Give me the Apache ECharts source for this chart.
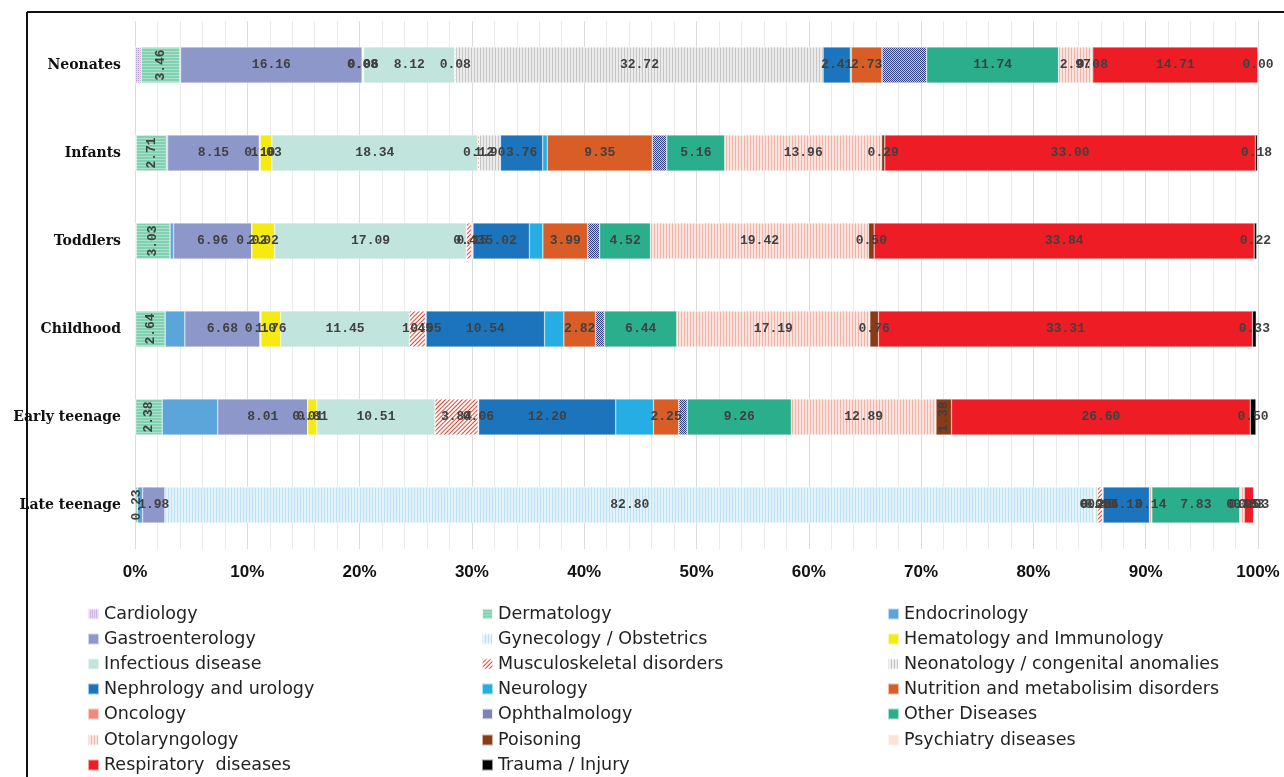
<!DOCTYPE html>
<html>
<head>
<meta charset="utf-8">
<script src="https://cdn.jsdelivr.net/npm/echarts@6/dist/echarts.min.js"></script>
<style>html,body{margin:0;padding:0;background:#fff}#c{width:1284px;height:777px}</style>
</head>
<body>
<div id="c"></div>
<script>
// Age groups (categories)
const ageGroups = ['Neonates', 'Infants', 'Toddlers', 'Childhood', 'Early teenage', 'Late teenage'];
// x-axis tick labels are percentages 0..100 step 10
const xTicks = [0, 10, 20, 30, 40, 50, 60, 70, 80, 90, 100];

// Series values (%), order: Neonates, Infants, Toddlers, Childhood, Early teenage, Late teenage
const cardiology      = [0.55, 0.10, 0.10, 0.05, 0.05, null];
const dermatology     = [3.46, 2.71, 3.03, 2.64, 2.38, 0.23];
const endocrinology   = [0.05, 0.10, 0.30, 1.75, 4.94, 0.45];
const gastro          = [16.16, 8.15, 6.96, 6.68, 8.01, 1.98];
const gynecology      = [0.08, 0.10, 0.02, 0.10, 0.01, 82.80];
const hematology      = [0.06, 1.03, 2.02, 1.76, 0.81, 0.05];
const infectious      = [8.12, 18.34, 17.09, 11.45, 10.51, 0.20];
const musculoskeletal = [0.08, 0.12, 0.43, 1.45, 3.84, 0.45];
const neonatology     = [32.72, 1.90, 0.15, 0.05, 0.06, 0.05];
const nephrology      = [2.41, 3.76, 5.02, 10.54, 12.20, 4.13];
const neurology       = [0.10, 0.40, 1.20, 1.72, 3.36, 0.05];
const nutrition       = [2.73, 9.35, 3.99, 2.82, 2.25, 0.14];
const oncology        = [null, null, null, null, null, null];
const ophthalmology   = [3.98, 1.30, 1.07, 0.80, 0.76, 0.02];
const otherDiseases   = [11.74, 5.16, 4.52, 6.44, 9.26, 7.83];
const otolaryngology  = [2.97, 13.96, 19.42, 17.19, 12.89, 0.35];
const poisoning       = [0.08, 0.29, 0.50, 0.76, 1.38, 0.05];
const psychiatry      = [null, null, null, null, null, null];
const respiratory     = [14.71, 33.00, 33.84, 33.31, 26.60, 0.83];
const trauma          = [0.00, 0.18, 0.22, 0.33, 0.50, 0.03];

const seriesNames = ['Cardiology', 'Dermatology', 'Endocrinology', 'Gastroenterology',
  'Gynecology / Obstetrics', 'Hematology and Immunology', 'Infectious disease',
  'Musculoskeletal disorders', 'Neonatology / congenital anomalies', 'Nephrology and urology',
  'Neurology', 'Nutrition and metabolisim disorders', 'Oncology', 'Ophthalmology',
  'Other Diseases', 'Otolaryngology', 'Poisoning', 'Psychiatry diseases',
  'Respiratory  diseases', 'Trauma / Injury'];
const seriesData = [cardiology, dermatology, endocrinology, gastro, gynecology, hematology,
  infectious, musculoskeletal, neonatology, nephrology, neurology, nutrition, oncology,
  ophthalmology, otherDiseases, otolaryngology, poisoning, psychiatry, respiratory, trauma];

// Styles
const vLines = (c) => ({symbol: 'rect', symbolSize: 1, color: c, dashArrayX: [1, 2], dashArrayY: [10, 0], rotation: 0});
const styles = [
  {color: '#E4D8EE', decal: {symbol: 'rect', symbolSize: 1, color: '#B499CF', dashArrayX: [1, 1], dashArrayY: [1, 1]}},
  {color: '#7FD1B2', decal: {symbol: 'rect', symbolSize: 1, color: 'rgba(255,255,255,0.35)', dashArrayX: [10, 0], dashArrayY: [1, 2]}},
  {color: '#5CA5DB'},
  {color: '#8E97C9'},
  {color: '#E3F3FC', decal: vLines('#BDE2F4')},
  {color: '#F5EB12'},
  {color: '#C1E5DC'},
  {color: '#FFFFFF', decal: {symbol: 'rect', symbolSize: 1, color: '#E2412F', dashArrayX: [1, 2], dashArrayY: [10, 0], rotation: Math.PI / 4}},
  {color: '#EBEBEB', decal: vLines('#C6C6C6')},
  {color: '#1C74BD'},
  {color: '#26AEE4'},
  {color: '#D95D26'},
  {color: '#F2897A'},
  {color: '#2E3D80', decal: {symbol: 'rect', symbolSize: 1, color: 'rgba(255,255,255,0.75)', dashArrayX: [[1, 1], [0, 1, 1, 0]], dashArrayY: [1, 0]}},
  {color: '#2AAE8B'},
  {color: '#FBE3DE', decal: vLines('#F0B4AA')},
  {color: '#8B3A18'},
  {color: '#FCE3D3'},
  {color: '#EE1D25'},
  {color: '#000000'}
];
const noLabel = new Set(['Cardiology', 'Endocrinology', 'Neurology', 'Ophthalmology', 'Oncology', 'Psychiatry diseases']);
const rotatedLabel = {'Dermatology': [0, 1, 2, 3, 4, 5], 'Poisoning': [4]};

const labelFont = {color: '#404040', fontFamily: 'Liberation Mono', fontWeight: 'bold', fontSize: 13};

const series = seriesNames.map((name, i) => {
  const rot = rotatedLabel[name] || [];
  return {
    name: name,
    type: 'bar',
    stack: 'total',
    barWidth: 36,
    itemStyle: Object.assign({borderColor: 'rgba(255,255,255,0.6)', borderWidth: 0.5}, styles[i]),
    label: Object.assign({
      show: !noLabel.has(name),
      position: 'inside',
      formatter: (p) => p.value == null ? '' : Number(p.value).toFixed(2)
    }, labelFont),
    labelLayout: {hideOverlap: false},
    data: seriesData[i].map((v, j) => rot.indexOf(j) >= 0 && v != null
      ? {value: v, label: {rotate: 90}} : v)
  };
});

// Legend: 3 columns x 7 rows, row-major order
const legendCols = [87, 481, 887];
const legendRowCenters = [614, 639, 664, 689, 714, 740, 765];
const legends = seriesNames.map((name, i) => ({
  orient: 'horizontal',
  left: legendCols[i % 3],
  top: legendRowCenters[Math.floor(i / 3)] - 10,
  padding: 0, itemWidth: 11, itemHeight: 11, icon: 'rect',
  textStyle: {fontFamily: 'DejaVu Sans', fontSize: 17.5, color: '#222', lineHeight: 20},
  data: [name], selectedMode: false
}));

const chart = echarts.init(document.getElementById('c'), null, {renderer: 'canvas'});
chart.setOption({
  animation: false,
  backgroundColor: '#ffffff',
  grid: {left: 135, right: 26, top: 21, bottom: 228, containLabel: false},
  xAxis: {
    type: 'value', min: xTicks[0], max: xTicks[xTicks.length - 1], interval: 10,
    axisLine: {show: false}, axisTick: {show: false},
    axisLabel: {formatter: '{value}%', fontFamily: 'Liberation Sans', fontWeight: 'bold', fontSize: 17, color: '#111', margin: 15},
    splitLine: {show: true, lineStyle: {color: '#DCDCDC', width: 1}},
    minorTick: {show: false, splitNumber: 5},
    minorSplitLine: {show: true, lineStyle: {color: '#EBEBEB', width: 1}}
  },
  yAxis: {
    type: 'category', data: ageGroups, inverse: true,
    axisLine: {show: false}, axisTick: {show: false},
    axisLabel: {fontFamily: 'DejaVu Serif', fontWeight: 'bold', fontSize: 14, color: '#111', margin: 14}
  },
  legend: legends,
  graphic: [
    {type: 'line', shape: {x1: 27, y1: 12, x2: 1284, y2: 12}, style: {stroke: '#111', lineWidth: 2}},
    {type: 'line', shape: {x1: 27, y1: 12, x2: 27, y2: 777}, style: {stroke: '#111', lineWidth: 2}}
  ],
  series: series
});
</script>
</body>
</html>
